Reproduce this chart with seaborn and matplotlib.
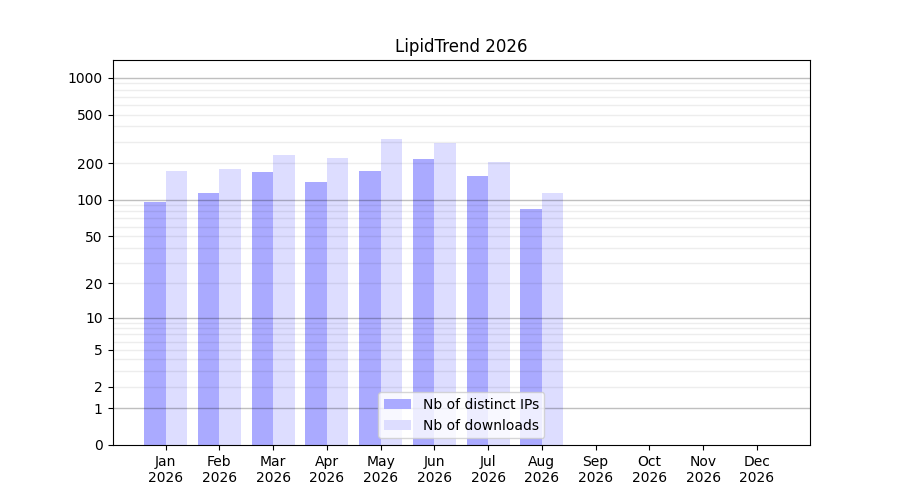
import numpy as np
import pandas as pd
import matplotlib
matplotlib.use("Agg")
import matplotlib.pyplot as plt
import seaborn as sns

# monthly stats
months = ["Jan", "Feb", "Mar", "Apr", "May", "Jun", "Jul", "Aug", "Sep", "Oct", "Nov", "Dec"]
year = "2026"
distinct_ips = [96, 114, 168, 140, 173, 217, 157, 84, 0, 0, 0, 0]
downloads = [173, 180, 234, 221, 317, 294, 205, 114, 0, 0, 0, 0]
ytick_values = [0, 1, 2, 5, 10, 20, 50, 100, 200, 500, 1000]

labels = [f"{m}\n{year}" for m in months]
df = pd.DataFrame({
    "month": labels * 2,
    "count": distinct_ips + downloads,
    "kind": ["Nb of distinct IPs"] * 12 + ["Nb of downloads"] * 12,
})

fig, ax = plt.subplots(figsize=(9, 5), dpi=100)
sns.barplot(data=df, x="month", y="count", hue="kind", ax=ax,
            palette=["#aaaaff", "#ddddff"], width=0.8, saturation=1,
            errorbar=None)

# log(1+x) scale so zero still shows
ax.set_yscale("function", functions=(lambda v: np.log10(1 + np.maximum(v, 0)),
                                     lambda v: 10 ** v - 1))
ax.set_ylim(0, 1400)
ax.set_xlim(-0.99, 11.99)
ax.set_yticks(ytick_values)
ax.set_yticklabels([str(v) for v in ytick_values])
ax.yaxis.set_minor_locator(matplotlib.ticker.NullLocator())

# grid on top of the bars, under the legend
for n in range(0, 4):
    for k in range(1, 10):
        v = k * 10 ** n
        if v > 1400:
            continue
        if k == 1:
            ax.axhline(v, color="black", alpha=0.25, linewidth=1, zorder=2)
        else:
            ax.axhline(v, color="black", alpha=0.07, linewidth=1, zorder=2)

ax.set_xlabel("")
ax.set_ylabel("")
ax.set_title("LipidTrend 2026")
ax.legend(loc="lower center", title=None)

fig.savefig("out.png")
